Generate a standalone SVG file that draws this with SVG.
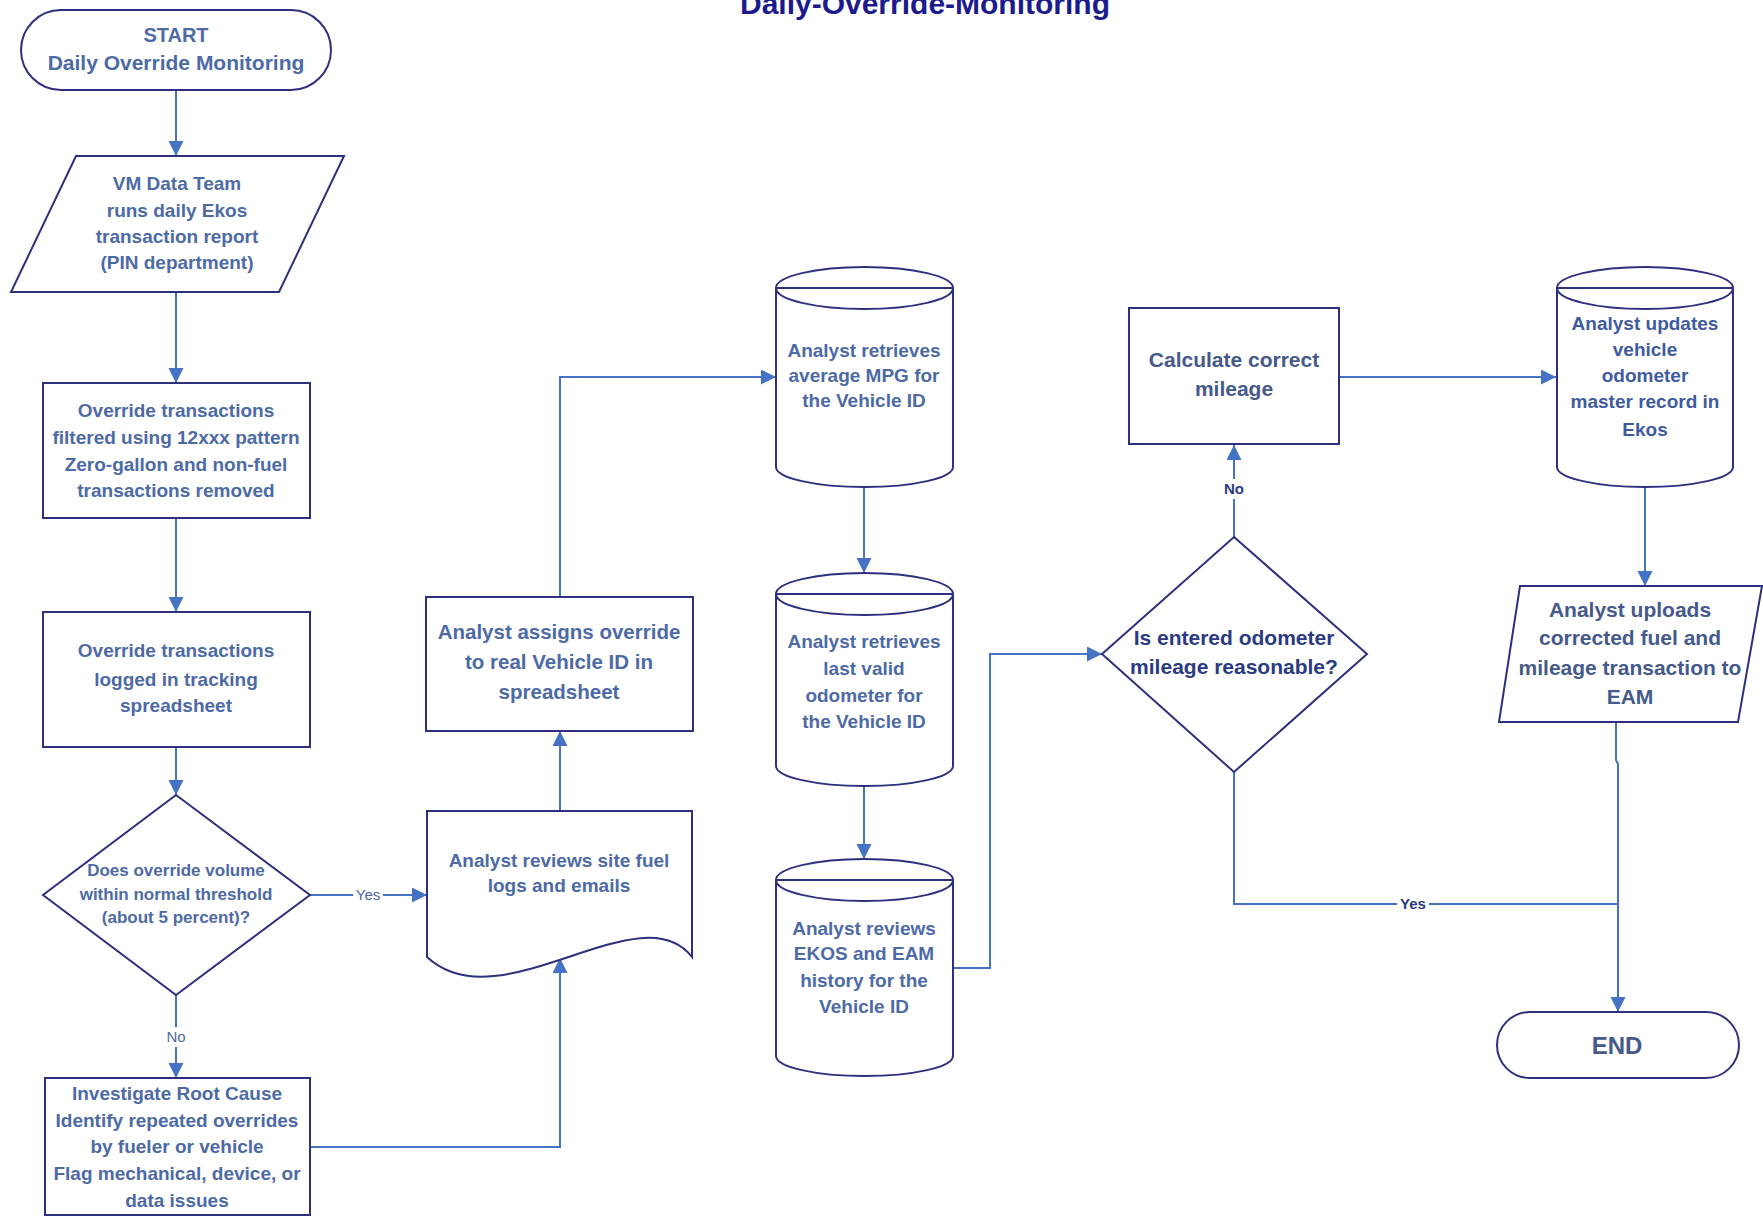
<svg xmlns="http://www.w3.org/2000/svg" width="1763" height="1216" viewBox="0 0 1763 1216">
  <style>
    text { font-family: "Liberation Sans", Arial, sans-serif; font-weight: bold; text-anchor: middle; }
    .body { font-size: 19px; fill: #4d6aa6; }
    .big { font-size: 21px; fill: #45598a; }
    .dark { font-size: 21px; fill: #2b3a82; }
    .dia { font-size: 17px; fill: #4d6aa6; }
    .shape { fill: #ffffff; stroke: #2e2f7e; stroke-width: 2; }
    .conn { fill: none; stroke: #4472c4; stroke-width: 2; }
    .lbl { font-size: 15px; font-weight: normal; fill: #4d6aa6; }
    .lblb { font-size: 15px; fill: #2b3a82; }
    .title { font-size: 30px; fill: #1b1b8f; }
  </style>
  <defs>
    <marker id="arrow" markerUnits="userSpaceOnUse" markerWidth="16" markerHeight="16" refX="15" refY="7.5" orient="auto">
      <path d="M0,0 L15,7.5 L0,15 z" fill="#4472c4"/>
    </marker>
  </defs>
  <rect width="1763" height="1216" fill="#ffffff"/>

  <text class="title" x="925" y="14">Daily-Override-Monitoring</text>

  <!-- connectors -->
  <g id="connectors">
    <path class="conn" d="M176,90 V156" marker-end="url(#arrow)"/>
    <path class="conn" d="M176,292 V383" marker-end="url(#arrow)"/>
    <path class="conn" d="M176,518 V612" marker-end="url(#arrow)"/>
    <path class="conn" d="M176,747 V795" marker-end="url(#arrow)"/>
    <path class="conn" d="M310,895 H427" marker-end="url(#arrow)"/>
    <path class="conn" d="M176,995 V1078" marker-end="url(#arrow)"/>
    <path class="conn" d="M310,1147 H560 V958" marker-end="url(#arrow)"/>
    <path class="conn" d="M560,811 V731" marker-end="url(#arrow)"/>
    <path class="conn" d="M560,597 V377 H776" marker-end="url(#arrow)"/>
    <path class="conn" d="M864,487 V573" marker-end="url(#arrow)"/>
    <path class="conn" d="M864,786 V859" marker-end="url(#arrow)"/>
    <path class="conn" d="M953,968 H990 V654 H1102" marker-end="url(#arrow)"/>
    <path class="conn" d="M1234,537 V445" marker-end="url(#arrow)"/>
    <path class="conn" d="M1339,377 H1556" marker-end="url(#arrow)"/>
    <path class="conn" d="M1645,487 V586" marker-end="url(#arrow)"/>
    <path class="conn" d="M1616,722 V760 L1618,764 V1012" marker-end="url(#arrow)"/>
    <path class="conn" d="M1234,772 V904 H1618"/>
    <!-- edge labels -->
    <rect x="353" y="886" width="30" height="18" fill="#ffffff"/>
    <text class="lbl" x="368" y="900">Yes</text>
    <rect x="164" y="1027" width="24" height="20" fill="#ffffff"/>
    <text class="lbl" x="176" y="1042">No</text>
    <rect x="1221" y="479" width="26" height="20" fill="#ffffff"/>
    <text class="lblb" x="1234" y="494">No</text>
    <rect x="1397" y="895" width="32" height="18" fill="#ffffff"/>
    <text class="lblb" x="1413" y="909">Yes</text>
  </g>

  <!-- left column -->
  <g id="start">
    <rect class="shape" x="21" y="10" width="310" height="80" rx="40" ry="40"/>
    <text class="body" x="176" y="42" style="font-size:20px">START</text>
    <text class="body" x="176" y="70" style="font-size:21px">Daily Override Monitoring</text>
  </g>
  <g id="run-report">
    <polygon class="shape" points="76,156 344,156 279,292 11,292"/>
    <text class="body" x="177" y="190">VM Data Team</text>
    <text class="body" x="177" y="217">runs daily Ekos</text>
    <text class="body" x="177" y="243">transaction report</text>
    <text class="body" x="177" y="269">(PIN department)</text>
  </g>
  <g id="filter">
    <rect class="shape" x="43" y="383" width="267" height="135"/>
    <text class="body" x="176" y="417">Override transactions</text>
    <text class="body" x="176" y="444">filtered using 12xxx pattern</text>
    <text class="body" x="176" y="471">Zero-gallon and non-fuel</text>
    <text class="body" x="176" y="497">transactions removed</text>
  </g>
  <g id="log">
    <rect class="shape" x="43" y="612" width="267" height="135"/>
    <text class="body" x="176" y="657">Override transactions</text>
    <text class="body" x="176" y="686">logged in tracking</text>
    <text class="body" x="176" y="712">spreadsheet</text>
  </g>
  <g id="threshold">
    <polygon class="shape" points="176,795 310,895 176,995 43,895"/>
    <text class="dia" x="176" y="876">Does override volume</text>
    <text class="dia" x="176" y="900">within normal threshold</text>
    <text class="dia" x="176" y="923">(about 5 percent)?</text>
  </g>
  <g id="investigate">
    <rect class="shape" x="45" y="1078" width="265" height="137"/>
    <text class="body" x="177" y="1100">Investigate Root Cause</text>
    <text class="body" x="177" y="1127">Identify repeated overrides</text>
    <text class="body" x="177" y="1153">by fueler or vehicle</text>
    <text class="body" x="177" y="1180">Flag mechanical, device, or</text>
    <text class="body" x="177" y="1207">data issues</text>
  </g>

  <!-- middle column -->
  <g id="review-logs">
    <path class="shape" d="M427,811 H692 V957 C640,890 500,1025 427,957 Z"/>
    <text class="body" x="559" y="867">Analyst reviews site fuel</text>
    <text class="body" x="559" y="892">logs and emails</text>
  </g>
  <g id="assign">
    <rect class="shape" x="426" y="597" width="267" height="134"/>
    <text class="body" x="559" y="639" style="font-size:20.5px">Analyst assigns override</text>
    <text class="body" x="559" y="669" style="font-size:20.5px">to real Vehicle ID in</text>
    <text class="body" x="559" y="699" style="font-size:20.5px">spreadsheet</text>
  </g>
  <g id="avg-mpg">
    <path class="shape" d="M776,288 V467 A88.5,20 0 0 0 953,467 V288"/>
    <ellipse class="shape" cx="864.5" cy="288" rx="88.5" ry="21"/>
    <line class="shape" x1="776" y1="288" x2="953" y2="288"/>
    <text class="body" x="864" y="357">Analyst retrieves</text>
    <text class="body" x="864" y="382">average MPG for</text>
    <text class="body" x="864" y="407">the Vehicle ID</text>
  </g>
  <g id="last-odometer">
    <path class="shape" d="M776,594 V766 A88.5,20 0 0 0 953,766 V594"/>
    <ellipse class="shape" cx="864.5" cy="594" rx="88.5" ry="21"/>
    <line class="shape" x1="776" y1="594" x2="953" y2="594"/>
    <text class="body" x="864" y="648">Analyst retrieves</text>
    <text class="body" x="864" y="675">last valid</text>
    <text class="body" x="864" y="702">odometer for</text>
    <text class="body" x="864" y="728">the Vehicle ID</text>
  </g>
  <g id="history">
    <path class="shape" d="M776,880 V1056 A88.5,20 0 0 0 953,1056 V880"/>
    <ellipse class="shape" cx="864.5" cy="880" rx="88.5" ry="21"/>
    <line class="shape" x1="776" y1="880" x2="953" y2="880"/>
    <text class="body" x="864" y="935">Analyst reviews</text>
    <text class="body" x="864" y="960">EKOS and EAM</text>
    <text class="body" x="864" y="987">history for the</text>
    <text class="body" x="864" y="1013">Vehicle ID</text>
  </g>

  <!-- right column -->
  <g id="reasonable">
    <polygon class="shape" points="1234,537 1367,654 1234,772 1102,654"/>
    <text class="dark" x="1234" y="645">Is entered odometer</text>
    <text class="dark" x="1234" y="674">mileage reasonable?</text>
  </g>
  <g id="calculate">
    <rect class="shape" x="1129" y="308" width="210" height="136"/>
    <text class="big" x="1234" y="367">Calculate correct</text>
    <text class="big" x="1234" y="396">mileage</text>
  </g>
  <g id="update-master">
    <path class="shape" d="M1557,288 V467 A88,20 0 0 0 1733,467 V288"/>
    <ellipse class="shape" cx="1645" cy="288" rx="88" ry="21"/>
    <line class="shape" x1="1557" y1="288" x2="1733" y2="288"/>
    <text class="body" x="1645" y="330" style="fill:#3f5aa0">Analyst updates</text>
    <text class="body" x="1645" y="356" style="fill:#3f5aa0">vehicle</text>
    <text class="body" x="1645" y="382" style="fill:#3f5aa0">odometer</text>
    <text class="body" x="1645" y="408" style="fill:#3f5aa0">master record in</text>
    <text class="body" x="1645" y="436" style="fill:#3f5aa0">Ekos</text>
  </g>
  <g id="upload">
    <polygon class="shape" points="1520,586 1762,586 1738,722 1499,722"/>
    <text class="big" x="1630" y="617">Analyst uploads</text>
    <text class="big" x="1630" y="645">corrected fuel and</text>
    <text class="big" x="1630" y="675">mileage transaction to</text>
    <text class="big" x="1630" y="704">EAM</text>
  </g>
  <g id="end">
    <rect class="shape" x="1497" y="1012" width="242" height="66" rx="33" ry="33"/>
    <text class="body" x="1617" y="1054" style="font-size:24px;fill:#45598a">END</text>
  </g>
</svg>
